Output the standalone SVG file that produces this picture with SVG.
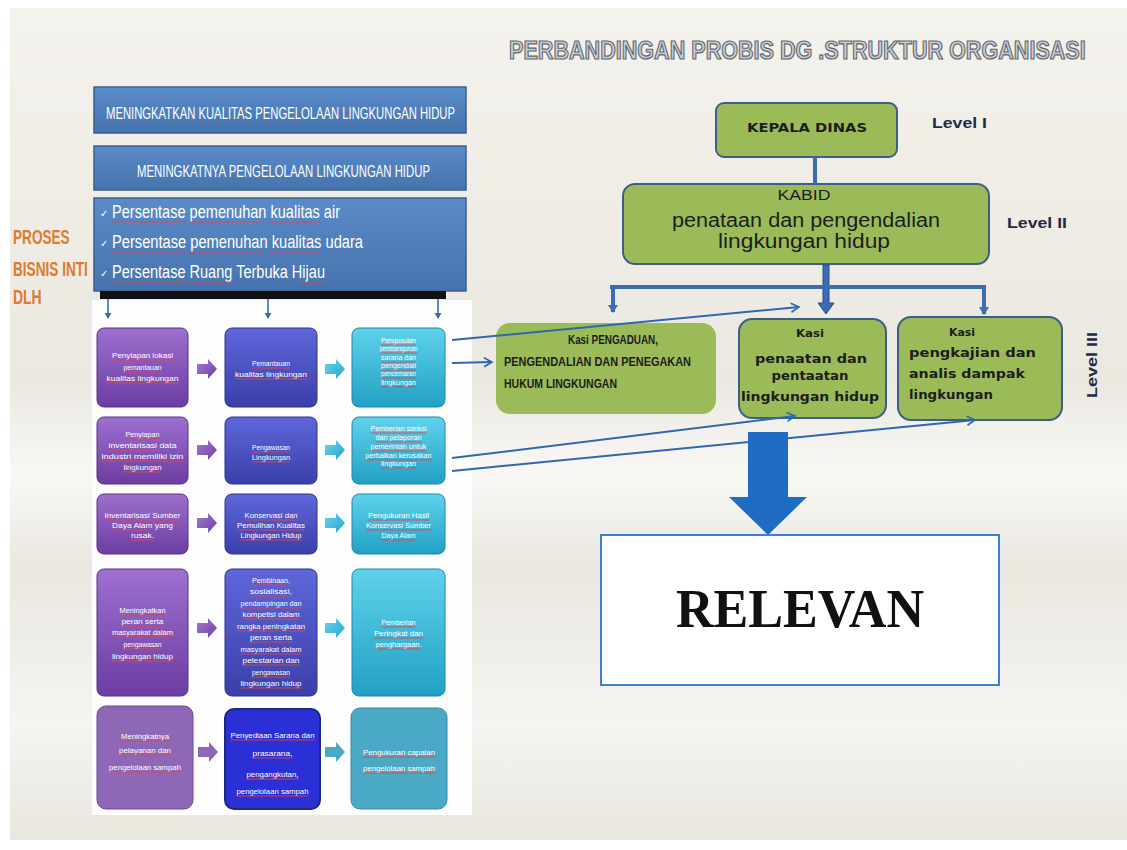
<svg xmlns="http://www.w3.org/2000/svg" width="1127" height="850" viewBox="0 0 1127 850">
<defs>
  <linearGradient id="bg" x1="0" y1="0" x2="0" y2="1">
    <stop offset="0" stop-color="#f4f2ec"/>
    <stop offset="0.45" stop-color="#ebe8e1"/>
    <stop offset="0.56" stop-color="#f9f8f5"/>
    <stop offset="0.67" stop-color="#eae7e0"/>
    <stop offset="0.86" stop-color="#f5f4f0"/>
    <stop offset="1" stop-color="#e9e6df"/>
  </linearGradient>
  <linearGradient id="gP" x1="0" y1="0" x2="0" y2="1">
    <stop offset="0" stop-color="#9d70cf"/>
    <stop offset="1" stop-color="#6c3da2"/>
  </linearGradient>
  <linearGradient id="gB" x1="0" y1="0" x2="0" y2="1">
    <stop offset="0" stop-color="#5e67db"/>
    <stop offset="1" stop-color="#3a3fa9"/>
  </linearGradient>
  <linearGradient id="gT" x1="0" y1="0" x2="0" y2="1">
    <stop offset="0" stop-color="#5fd2ec"/>
    <stop offset="1" stop-color="#22a0c3"/>
  </linearGradient>
  <linearGradient id="gHead" x1="0" y1="0" x2="0" y2="1">
    <stop offset="0" stop-color="#5a8cc9"/>
    <stop offset="1" stop-color="#4573ad"/>
  </linearGradient>
  <linearGradient id="gPA" x1="0" y1="0" x2="1" y2="1">
    <stop offset="0" stop-color="#a77ad6"/>
    <stop offset="1" stop-color="#6b3f9f"/>
  </linearGradient>
  <linearGradient id="gTA" x1="0" y1="0" x2="1" y2="1">
    <stop offset="0" stop-color="#68d6ee"/>
    <stop offset="1" stop-color="#27a4c6"/>
  </linearGradient>
  <path id="blk" d="M0 -5 H11 V-10 L20 0 L11 10 V5 H0 Z"/>
  <marker id="ah" markerWidth="12" markerHeight="12" refX="9" refY="6" orient="auto" markerUnits="userSpaceOnUse">
    <path d="M1 1.5 L9 6 L1 10.5" fill="none" stroke="#2f67b1" stroke-width="1.6"/>
  </marker>
  <marker id="ahs" markerWidth="8" markerHeight="8" refX="4" refY="6" orient="0" markerUnits="userSpaceOnUse">
    <path d="M0.5 1 L4 7 L7.5 1 Z" fill="#3b6cb5"/>
  </marker>
  <marker id="ahd" markerWidth="12" markerHeight="12" refX="6" refY="9" orient="0" markerUnits="userSpaceOnUse">
    <path d="M1 2 L6 10 L11 2 Z" fill="#3b6cb5"/>
  </marker>
</defs>
<style>
  .gt { font-family: "Liberation Sans", Arial, sans-serif; font-size: 7.5px; fill: #ffffff; text-anchor: middle; }
  .gs { font-size: 7px; }
  .gl { font-size: 8px; }
  .ul { stroke: #e8434a; stroke-width: 0.9; fill: none; }
  .cell { stroke-width: 1; }
  .hd { font-family: "Liberation Sans", Arial, sans-serif; fill: #ffffff; }
  .org { fill: #9bbb59; stroke: #3d5f86; stroke-width: 2; }
  .kt { font-family: "DejaVu Sans", Verdana, sans-serif; font-weight: bold; fill: #1d1d1d; }
  .lv { font-family: "Liberation Sans", Arial, sans-serif; font-weight: bold; font-size: 14px; fill: #1f2a44; }
  .bar { stroke: #3b6cb5; stroke-width: 4; fill: none; }
  .thin { stroke: #2f67b1; stroke-width: 2; fill: none; marker-end: url(#ah); }
  .drop { stroke: #3b6cb5; stroke-width: 1.6; fill: none; marker-end: url(#ahs); }
</style>

<!-- slide background -->
<rect width="1127" height="850" fill="#ffffff"/>
<rect x="10" y="8" width="1117" height="832" fill="url(#bg)"/>
<rect x="92" y="300" width="380" height="515" fill="#fdfdfd"/>

<!-- title -->
<text transform="translate(509 59) scale(0.857 1)" x="0" y="0" textLength="673" lengthAdjust="spacingAndGlyphs" font-family="Liberation Sans, Arial, sans-serif" font-weight="bold" font-size="25" fill="#c9cdd3" stroke="#5f6670" stroke-width="1.2">PERBANDINGAN PROBIS  DG .STRUKTUR ORGANISASI</text>

<!-- side label -->
<g id="proses-label" font-family="Liberation Sans, Arial, sans-serif" font-weight="bold" font-size="20" fill="#e07a2e">
  <text transform="translate(13 244) scale(0.7 1)" x="0" y="0" textLength="81" lengthAdjust="spacingAndGlyphs">PROSES</text>
  <text transform="translate(13 276) scale(0.7 1)" x="0" y="0" textLength="107" lengthAdjust="spacingAndGlyphs">BISNIS INTI</text>
  <text transform="translate(13 304) scale(0.7 1)" x="0" y="0" textLength="41" lengthAdjust="spacingAndGlyphs">DLH</text>
</g>

<!-- header boxes -->
<g id="tujuan">
  <rect x="94" y="87" width="372" height="46" fill="url(#gHead)" stroke="#3a5f8f" stroke-width="1.5"/>
  <text class="hd" x="106" y="119" font-size="16" textLength="349" lengthAdjust="spacingAndGlyphs">MENINGKATKAN KUALITAS PENGELOLAAN LINGKUNGAN HIDUP</text>
</g>
<g id="sasaran">
  <rect x="94" y="146" width="372" height="44" fill="url(#gHead)" stroke="#3a5f8f" stroke-width="1.5"/>
  <text class="hd" x="137" y="177" font-size="16" textLength="293" lengthAdjust="spacingAndGlyphs">MENINGKATNYA PENGELOLAAN LINGKUNGAN HIDUP</text>
</g>
<g id="indikator">
  <rect x="94" y="198" width="372" height="93" fill="url(#gHead)" stroke="#3a5f8f" stroke-width="1.5"/>
  <g class="hd" font-size="18">
    <text x="100" y="217" font-size="10">✓</text>
    <text x="112" y="218" textLength="228" lengthAdjust="spacingAndGlyphs">Persentase pemenuhan kualitas air</text>
    <text x="100" y="247" font-size="10">✓</text>
    <text x="112" y="248" textLength="251" lengthAdjust="spacingAndGlyphs">Persentase pemenuhan kualitas udara</text>
    <text x="100" y="277" font-size="10">✓</text>
    <text x="112" y="278" textLength="213" lengthAdjust="spacingAndGlyphs">Persentase Ruang Terbuka Hijau</text>
  </g>
  <path class="ul" stroke-width="1.3" d="M112 222 H185 M190 222 H264 M269 222 H320 M112 252 H185 M190 252 H264 M269 252 H320 M112 282 H185 M189 282 H229 M299 282 H324"/>
  <rect x="100" y="291" width="346" height="8" fill="#111111"/>
</g>

<!-- process grid : row 1 -->
<g id="r1c1">
  <rect class="cell" x="97" y="328" width="91" height="79" rx="7" fill="url(#gP)" stroke="#5b2f86"/>
  <text class="gt" x="142.5" y="358" textLength="61" lengthAdjust="spacingAndGlyphs">Penyiapan lokasi</text>
  <text class="gt" x="142.5" y="370" textLength="38" lengthAdjust="spacingAndGlyphs">pemantauan</text>
  <text class="gt" x="142.5" y="381" textLength="72" lengthAdjust="spacingAndGlyphs">kualitas lingkungan</text>
  <path class="ul" d="M112 360 h61 M123.5 372 h38 M106.5 383 h72"/>
</g>
<g id="r1c2">
  <rect class="cell" x="225" y="328" width="92" height="79" rx="7" fill="url(#gB)" stroke="#2f338a"/>
  <text class="gt" x="271" y="366" textLength="38" lengthAdjust="spacingAndGlyphs">Pemantauan</text>
  <text class="gt" x="271" y="377" textLength="72" lengthAdjust="spacingAndGlyphs">kualitas lingkungan</text>
  <path class="ul" d="M252 368 h38 M235 379 h72"/>
</g>
<g id="r1c3">
  <rect class="cell" x="352" y="328" width="93" height="79" rx="7" fill="url(#gT)" stroke="#1b8aa8"/>
  <g class="gt gs">
    <text x="398.5" y="343" textLength="35" lengthAdjust="spacingAndGlyphs">Pengusulan</text>
    <text x="398.5" y="351" textLength="38" lengthAdjust="spacingAndGlyphs">pembangunan</text>
    <text x="398.5" y="360" textLength="35" lengthAdjust="spacingAndGlyphs">sarana dan</text>
    <text x="398.5" y="368" textLength="35" lengthAdjust="spacingAndGlyphs">pengendali</text>
    <text x="398.5" y="376" textLength="35" lengthAdjust="spacingAndGlyphs">pencemaran</text>
    <text x="398.5" y="385" textLength="35" lengthAdjust="spacingAndGlyphs">lingkungan</text>
  </g>
  <path class="ul" d="M381 345 h35 M379.5 353 h38 M381 362 h35 M381 370 h35 M381 378 h35 M381 387 h35"/>
</g>

<!-- row 2 -->
<g id="r2c1">
  <rect class="cell" x="97" y="417" width="91" height="67" rx="7" fill="url(#gP)" stroke="#5b2f86"/>
  <text class="gt" x="142.5" y="437" textLength="34" lengthAdjust="spacingAndGlyphs">Penyiapan</text>
  <text class="gt" x="142.5" y="448" textLength="68" lengthAdjust="spacingAndGlyphs">inventarisasi data</text>
  <text class="gt" x="142.5" y="459" textLength="82" lengthAdjust="spacingAndGlyphs">industri memiliki izin</text>
  <text class="gt" x="142.5" y="470" textLength="38" lengthAdjust="spacingAndGlyphs">lingkungan</text>
  <path class="ul" d="M125.5 439 h34 M108.5 450 h48 M101.5 461 h82 M123.5 472 h38"/>
</g>
<g id="r2c2">
  <rect class="cell" x="225" y="417" width="92" height="67" rx="7" fill="url(#gB)" stroke="#2f338a"/>
  <text class="gt" x="271" y="450" textLength="38" lengthAdjust="spacingAndGlyphs">Pengawasan</text>
  <text class="gt" x="271" y="460" textLength="38" lengthAdjust="spacingAndGlyphs">Lingkungan</text>
  <path class="ul" d="M252 452 h38 M252 462 h38"/>
</g>
<g id="r2c3">
  <rect class="cell" x="352" y="417" width="93" height="67" rx="7" fill="url(#gT)" stroke="#1b8aa8"/>
  <g class="gt gs">
    <text x="398.5" y="431" textLength="56" lengthAdjust="spacingAndGlyphs">Pemberian sanksi</text>
    <text x="398.5" y="440" textLength="46" lengthAdjust="spacingAndGlyphs">dan pelaporan</text>
    <text x="398.5" y="449" textLength="56" lengthAdjust="spacingAndGlyphs">pemerintah untuk</text>
    <text x="398.5" y="458" textLength="66" lengthAdjust="spacingAndGlyphs">perbaikan kerusakan</text>
    <text x="398.5" y="466" textLength="35" lengthAdjust="spacingAndGlyphs">lingkungan</text>
  </g>
  <path class="ul" d="M370.5 433 h56 M375.5 442 h46 M370.5 451 h56 M365.5 460 h66 M381 468 h35"/>
</g>

<!-- row 3 -->
<g id="r3c1">
  <rect class="cell" x="97" y="494" width="91" height="60" rx="7" fill="url(#gP)" stroke="#5b2f86"/>
  <text class="gt" x="142.5" y="518" textLength="76" lengthAdjust="spacingAndGlyphs">Inventarisasi Sumber</text>
  <text class="gt" x="142.5" y="528" textLength="61" lengthAdjust="spacingAndGlyphs">Daya Alam    yang</text>
  <text class="gt" x="142.5" y="538" textLength="23" lengthAdjust="spacingAndGlyphs">rusak.</text>
  <path class="ul" d="M104.5 520 h76 M112 530 h35 M131 540 h23"/>
</g>
<g id="r3c2">
  <rect class="cell" x="225" y="494" width="92" height="60" rx="7" fill="url(#gB)" stroke="#2f338a"/>
  <text class="gt" x="271" y="518" textLength="53" lengthAdjust="spacingAndGlyphs">Konservasi dan</text>
  <text class="gt" x="271" y="528" textLength="68" lengthAdjust="spacingAndGlyphs">Pemulihan Kualitas</text>
  <text class="gt" x="271" y="538" textLength="61" lengthAdjust="spacingAndGlyphs">Lingkungan Hidup</text>
  <path class="ul" d="M244.5 520 h53 M237 530 h68 M240.5 540 h61"/>
</g>
<g id="r3c3">
  <rect class="cell" x="352" y="494" width="93" height="60" rx="7" fill="url(#gT)" stroke="#1b8aa8"/>
  <text class="gt" x="398.5" y="518" textLength="61" lengthAdjust="spacingAndGlyphs">Pengukuran Hasil</text>
  <text class="gt" x="398.5" y="528" textLength="65" lengthAdjust="spacingAndGlyphs">Konservasi Sumber</text>
  <text class="gt" x="398.5" y="538" textLength="34" lengthAdjust="spacingAndGlyphs">Daya Alam</text>
  <path class="ul" d="M368 520 h61 M366 530 h65 M381.5 540 h34"/>
</g>

<!-- row 4 -->
<g id="r4c1">
  <rect class="cell" x="97" y="569" width="91" height="127" rx="7" fill="url(#gP)" stroke="#5b2f86"/>
  <text class="gt" x="142.5" y="613" textLength="46" lengthAdjust="spacingAndGlyphs">Meningkatkan</text>
  <text class="gt" x="142.5" y="624" textLength="42" lengthAdjust="spacingAndGlyphs">peran serta</text>
  <text class="gt" x="142.5" y="635" textLength="61" lengthAdjust="spacingAndGlyphs">masyarakat dalam</text>
  <text class="gt" x="142.5" y="647" textLength="38" lengthAdjust="spacingAndGlyphs">pengawasan</text>
  <text class="gt" x="142.5" y="659" textLength="61" lengthAdjust="spacingAndGlyphs">lingkungan hidup</text>
  <path class="ul" d="M119.5 615 h46 M121.5 626 h42 M112 637 h61 M123.5 649 h38 M112 661 h61"/>
</g>
<g id="r4c2">
  <rect class="cell" x="225" y="569" width="92" height="127" rx="7" fill="url(#gB)" stroke="#2f338a"/>
  <text class="gt" x="271" y="583" textLength="38" lengthAdjust="spacingAndGlyphs">Pembinaan,</text>
  <text class="gt" x="271" y="594" textLength="42" lengthAdjust="spacingAndGlyphs">sosialisasi,</text>
  <text class="gt" x="271" y="606" textLength="61" lengthAdjust="spacingAndGlyphs">pendampingan dan</text>
  <text class="gt" x="271" y="617" textLength="57" lengthAdjust="spacingAndGlyphs">kompetisi dalam</text>
  <text class="gt" x="271" y="629" textLength="68" lengthAdjust="spacingAndGlyphs">rangka peningkatan</text>
  <text class="gt" x="271" y="640" textLength="42" lengthAdjust="spacingAndGlyphs">peran serta</text>
  <text class="gt" x="271" y="652" textLength="61" lengthAdjust="spacingAndGlyphs">masyarakat dalam</text>
  <text class="gt" x="271" y="663" textLength="57" lengthAdjust="spacingAndGlyphs">pelestarian dan</text>
  <text class="gt" x="271" y="675" textLength="38" lengthAdjust="spacingAndGlyphs">pengawasan</text>
  <text class="gt" x="271" y="686" textLength="61" lengthAdjust="spacingAndGlyphs">lingkungan hidup</text>
  <path class="ul" d="M252 585 h38 M250 596 h42 M240.5 608 h61 M242.5 619 h57 M237 631 h68 M250 642 h42 M240.5 654 h61 M242.5 665 h57 M252 677 h38 M240.5 688 h61"/>
</g>
<g id="r4c3">
  <rect class="cell" x="352" y="569" width="93" height="127" rx="7" fill="url(#gT)" stroke="#1b8aa8"/>
  <text class="gt" x="398.5" y="625" textLength="34" lengthAdjust="spacingAndGlyphs">Pemberian</text>
  <text class="gt" x="398.5" y="636" textLength="49" lengthAdjust="spacingAndGlyphs">Peringkat dan</text>
  <text class="gt" x="398.5" y="647" textLength="46" lengthAdjust="spacingAndGlyphs">penghargaan.</text>
  <path class="ul" d="M381.5 627 h34 M374 638 h49 M375.5 649 h46"/>
</g>

<!-- row 5 -->
<g id="r5c1">
  <rect class="cell" x="97" y="706" width="96" height="103" rx="9" fill="#8e68b6" stroke="#6a4a90"/>
  <g class="gt gl">
    <text x="145" y="739" textLength="48" lengthAdjust="spacingAndGlyphs">Meningkatnya</text>
    <text x="145" y="753" textLength="52" lengthAdjust="spacingAndGlyphs">pelayanan dan</text>
    <text x="145" y="770" textLength="72" lengthAdjust="spacingAndGlyphs">pengelolaan sampah</text>
  </g>
  <path class="ul" d="M121 741 h48 M119 755 h52 M109 772 h72"/>
</g>
<g id="r5c2">
  <rect x="225" y="709" width="95" height="100" rx="9" fill="#2b2fd6" stroke="#1b2a7a" stroke-width="2"/>
  <g class="gt gl">
    <text x="272.5" y="738" textLength="84" lengthAdjust="spacingAndGlyphs">Penyediaan Sarana dan</text>
    <text x="272.5" y="756" textLength="40" lengthAdjust="spacingAndGlyphs">prasarana,</text>
    <text x="272.5" y="777" textLength="52" lengthAdjust="spacingAndGlyphs">pengangkutan,</text>
    <text x="272.5" y="794" textLength="72" lengthAdjust="spacingAndGlyphs">pengelolaan sampah</text>
  </g>
  <path class="ul" d="M230.5 740 h84 M252.5 758 h40 M246.5 779 h52 M236.5 796 h72"/>
</g>
<g id="r5c3">
  <rect class="cell" x="351" y="708" width="96" height="101" rx="9" fill="#4aaac6" stroke="#3a8aa6"/>
  <g class="gt gl">
    <text x="399" y="755" textLength="72" lengthAdjust="spacingAndGlyphs">Pengukuran capaian</text>
    <text x="399" y="771" textLength="72" lengthAdjust="spacingAndGlyphs">pengelolaan sampah</text>
  </g>
  <path class="ul" d="M363 757 h72 M363 773 h72"/>
</g>

<!-- block arrows between process columns -->
<g id="step-arrows">
  <use href="#blk" fill="url(#gPA)" transform="translate(197 369)"/>
  <use href="#blk" fill="url(#gTA)" transform="translate(325 369)"/>
  <use href="#blk" fill="url(#gPA)" transform="translate(197 450)"/>
  <use href="#blk" fill="url(#gTA)" transform="translate(325 450)"/>
  <use href="#blk" fill="url(#gPA)" transform="translate(197 523)"/>
  <use href="#blk" fill="url(#gTA)" transform="translate(325 523)"/>
  <use href="#blk" fill="url(#gPA)" transform="translate(197 628)"/>
  <use href="#blk" fill="url(#gTA)" transform="translate(325 628)"/>
  <use href="#blk" fill="#8e68b6" transform="translate(198 752)"/>
  <use href="#blk" fill="#4aaac6" transform="translate(325 752)"/>
</g>

<!-- organisation chart -->
<g id="kepala-dinas">
  <rect class="org" x="716" y="103" width="181" height="54" rx="8"/>
  <text class="kt" x="807" y="132" font-size="13" text-anchor="middle" font-family="Liberation Sans, Arial, sans-serif" textLength="120" lengthAdjust="spacingAndGlyphs">KEPALA DINAS</text>
</g>
<g id="kabid">
  <rect class="org" x="623" y="184" width="366" height="80" rx="12"/>
  <g font-family="Liberation Sans, Arial, sans-serif" fill="#1d1d1d" text-anchor="middle">
    <text x="804" y="200" font-size="14" textLength="53" lengthAdjust="spacingAndGlyphs">KABID</text>
    <text x="806" y="227" font-size="20" textLength="268" lengthAdjust="spacingAndGlyphs">penataan dan pengendalian</text>
    <text x="804" y="248" font-size="20" textLength="172" lengthAdjust="spacingAndGlyphs">lingkungan hidup</text>
  </g>
</g>
<g id="kasi-pengaduan">
  <rect x="496" y="323" width="220" height="91" rx="14" fill="#9bbb59"/>
  <g font-family="Liberation Sans, Arial, sans-serif" font-weight="bold" font-size="12" fill="#1d1d1d">
    <text x="568" y="344" textLength="90" lengthAdjust="spacingAndGlyphs">Kasi PENGADUAN,</text>
    <text x="504" y="366" textLength="187" lengthAdjust="spacingAndGlyphs">PENGENDALIAN   DAN  PENEGAKAN</text>
    <text x="504" y="388" textLength="113" lengthAdjust="spacingAndGlyphs">HUKUM   LINGKUNGAN</text>
  </g>
</g>
<g id="kasi-penaatan">
  <rect class="org" x="739" y="319" width="147" height="99" rx="13"/>
  <text class="kt" x="810" y="337" font-size="10" text-anchor="middle" textLength="28" lengthAdjust="spacingAndGlyphs">Kasi</text>
  <text class="kt" x="811" y="363" font-size="13" text-anchor="middle" textLength="112" lengthAdjust="spacingAndGlyphs">penaatan  dan</text>
  <text class="kt" x="810" y="380" font-size="13" text-anchor="middle" textLength="77" lengthAdjust="spacingAndGlyphs">pentaatan</text>
  <text class="kt" x="810" y="401" font-size="13" text-anchor="middle" textLength="138" lengthAdjust="spacingAndGlyphs">lingkungan   hidup</text>
</g>
<g id="kasi-pengkajian">
  <rect class="org" x="898" y="317" width="164" height="103" rx="13"/>
  <text class="kt" x="962" y="336" font-size="10" text-anchor="middle" textLength="26" lengthAdjust="spacingAndGlyphs">Kasi</text>
  <text class="kt" x="909" y="357" font-size="13" textLength="127" lengthAdjust="spacingAndGlyphs">pengkajian dan</text>
  <text class="kt" x="909" y="378" font-size="13" textLength="116" lengthAdjust="spacingAndGlyphs">analis dampak</text>
  <text class="kt" x="909" y="399" font-size="13" textLength="84" lengthAdjust="spacingAndGlyphs">lingkungan</text>
</g>
<g id="levels">
  <text class="lv" x="932" y="128" textLength="55" lengthAdjust="spacingAndGlyphs">Level I</text>
  <text class="lv" x="1007" y="228" textLength="60" lengthAdjust="spacingAndGlyphs">Level II</text>
  <text class="lv" transform="translate(1097 365) rotate(-90)" text-anchor="middle" textLength="66" lengthAdjust="spacingAndGlyphs">Level III</text>
</g>

<g id="relevan">
  <rect x="601" y="535" width="398" height="150" fill="#ffffff" stroke="#3c80d2" stroke-width="2"/>
  <text x="800" y="627" text-anchor="middle" font-family="Liberation Serif, Times New Roman, serif" font-weight="bold" font-size="55" fill="#111111" textLength="248" lengthAdjust="spacingAndGlyphs">RELEVAN</text>
</g>

<!-- connectors -->
<g id="connectors">
  <!-- from indicator bar down to the process rows -->
  <line class="drop" x1="108" y1="299" x2="108" y2="318"/>
  <line class="drop" x1="268" y1="299" x2="268" y2="318"/>
  <line class="drop" x1="438" y1="299" x2="438" y2="318"/>

  <!-- hierarchy lines -->
  <line class="bar" x1="815" y1="157" x2="815" y2="184"/>
  <path d="M823 265 H829 V303 H834 L826 314 L818 303 H823 Z" fill="#3b6cb5" stroke="#2b4f86" stroke-width="1"/>
  <line class="bar" x1="610" y1="287" x2="986" y2="287"/>
  <line class="bar" x1="613" y1="285" x2="613" y2="312" marker-end="url(#ahd)"/>
  <line class="bar" x1="984" y1="285" x2="984" y2="314" marker-end="url(#ahd)"/>

  <!-- process to section links -->
  <line class="thin" x1="452" y1="340" x2="799" y2="307"/>
  <line class="thin" x1="452" y1="363" x2="492" y2="362"/>
  <line class="thin" x1="452" y1="458" x2="795" y2="416"/>
  <line class="thin" x1="452" y1="471" x2="975" y2="420"/>

  <!-- result arrow -->
  <path d="M748 432 H788 V497 H807 L768 535 L729 497 H748 Z" fill="#1f6cc4"/>
</g>
</svg>
